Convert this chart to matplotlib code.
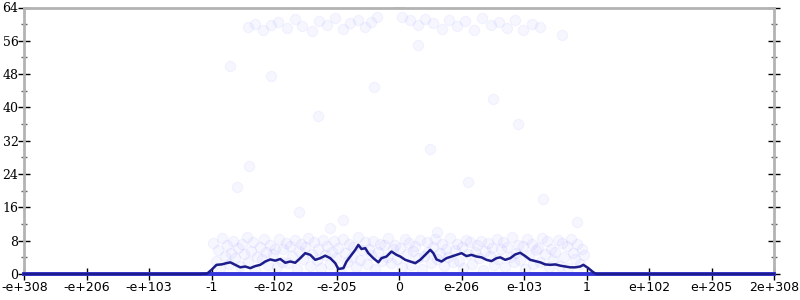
import numpy as np
import matplotlib
matplotlib.use("Agg")
import matplotlib.pyplot as plt
from matplotlib.ticker import MultipleLocator

# x positions are in tick-slot units: -6 (-e+308) ... 0 ... 6 (2e+308)
tick_pos = [-6, -5, -4, -3, -2, -1, 0, 1, 2, 3, 4, 5, 6]
tick_labels = ["-e+308", "-e+206", "-e+103", "-1", "-e-102", "-e-205", "0",
               "e-206", "e-103", "1", "e+102", "e+205", "2e+308"]

# moving-average line
line_x = [-6.0, -3.18, -3.07, -3.00, -2.92, -2.84, -2.76, -2.70, -2.62, -2.54,
          -2.46, -2.38, -2.30, -2.22, -2.14, -2.06, -1.98, -1.90, -1.82, -1.74,
          -1.66, -1.58, -1.50, -1.42, -1.34, -1.26, -1.18, -1.10, -1.02, -0.97,
          -0.89, -0.84, -0.76, -0.70, -0.65, -0.60, -0.54, -0.49, -0.41, -0.33,
          -0.28, -0.20, -0.12, -0.04, 0.02, 0.10, 0.18, 0.26, 0.34, 0.42,
          0.50, 0.55, 0.60, 0.68, 0.76, 0.84, 0.92, 1.00, 1.08, 1.16,
          1.24, 1.32, 1.40, 1.48, 1.56, 1.62, 1.70, 1.78, 1.86, 1.94,
          2.02, 2.10, 2.18, 2.26, 2.34, 2.42, 2.50, 2.58, 2.66, 2.74,
          2.82, 2.90, 2.95, 3.03, 3.11, 3.16, 6.0]
line_y = [0.0, 0.0, 0.1, 1.0, 2.2, 2.3, 2.6, 2.8, 2.2, 1.6,
          1.8, 1.4, 1.9, 2.2, 3.0, 3.5, 3.2, 3.6, 2.7, 3.0,
          2.7, 3.8, 5.0, 4.6, 3.4, 3.8, 4.4, 3.8, 2.6, 1.2,
          1.4, 3.0, 4.6, 5.8, 7.0, 6.0, 6.2, 5.0, 3.8, 2.8,
          3.8, 4.2, 5.4, 4.6, 4.2, 3.4, 3.0, 2.6, 3.4, 4.6,
          5.8, 5.0, 3.5, 3.0, 3.8, 4.2, 4.6, 5.0, 4.3, 4.6,
          4.2, 4.0, 3.4, 3.1, 3.8, 4.0, 3.4, 3.8, 4.7, 5.1,
          4.3, 3.4, 3.1, 2.8, 2.3, 2.2, 2.3, 2.0, 1.8, 1.6,
          1.6, 1.8, 2.2, 1.4, 0.4, 0.0, 0.0]

# samples sitting on zero across the whole range
zero_x = [-6.0, -5.5, -5.0, -4.5, -4.0, -3.5, -3.0, -2.5, -2.0, -1.5, -1.0,
          -0.5, 0.0, 0.5, 1.0, 1.5, 2.0, 2.5, 3.0, 3.5, 4.0, 4.5, 5.0, 5.5, 6.0]

# low band of samples inside [-1, 1]
band_x = [-2.97, -2.93, -2.90, -2.86, -2.83, -2.79, -2.76, -2.72, -2.69, -2.65,
          -2.62, -2.58, -2.55, -2.51, -2.48, -2.44, -2.41, -2.37, -2.34, -2.30,
          -2.27, -2.23, -2.20, -2.16, -2.13, -2.09, -2.06, -2.02, -1.99, -1.95,
          -1.92, -1.88, -1.85, -1.81, -1.78, -1.74, -1.71, -1.67, -1.64, -1.60,
          -1.57, -1.53, -1.50, -1.46, -1.43, -1.39, -1.36, -1.32, -1.29, -1.25,
          -1.22, -1.18, -1.15, -1.11, -1.08, -1.04, -1.01, -0.97, -0.94, -0.90,
          -0.87, -0.83, -0.80, -0.76, -0.73, -0.69, -0.66, -0.62, -0.59, -0.55,
          -0.52, -0.48, -0.45, -0.41, -0.38, -0.34, -0.31, -0.27, -0.24, -0.20,
          -0.17, -0.13, -0.10, -0.06, -0.03, 0.02, 0.05, 0.09, 0.12, 0.16,
          0.19, 0.23, 0.26, 0.30, 0.33, 0.37, 0.40, 0.44, 0.47, 0.51,
          0.54, 0.58, 0.61, 0.65, 0.68, 0.72, 0.75, 0.79, 0.82, 0.86,
          0.89, 0.93, 0.96, 1.00, 1.03, 1.07, 1.10, 1.14, 1.17, 1.21,
          1.24, 1.28, 1.31, 1.35, 1.38, 1.42, 1.45, 1.49, 1.52, 1.56,
          1.59, 1.63, 1.66, 1.70, 1.73, 1.77, 1.80, 1.84, 1.87, 1.91,
          1.94, 1.98, 2.01, 2.05, 2.08, 2.12, 2.15, 2.19, 2.22, 2.26,
          2.29, 2.33, 2.36, 2.40, 2.43, 2.47, 2.50, 2.54, 2.57, 2.61,
          2.64, 2.68, 2.71, 2.75, 2.78, 2.82, 2.85, 2.89, 2.92, 2.96]
band_y = [7.5, 3.2, 5.8, 1.4, 8.6, 4.4, 6.9, 2.5, 5.1, 8.0,
          3.8, 6.3, 1.9, 7.2, 4.9, 8.8, 2.9, 5.6, 7.8, 0.9,
          4.1, 6.6, 3.5, 8.3, 5.3, 2.2, 7.0, 4.7, 6.1, 1.6,
          8.5, 3.0, 5.9, 7.4, 2.7, 6.8, 4.3, 8.1, 1.2, 5.5,
          7.1, 3.6, 6.4, 8.7, 2.0, 4.8, 7.7, 3.3, 6.0, 1.5,
          8.2, 4.5, 6.7, 2.4, 5.2, 7.9, 3.9, 6.2, 0.8, 8.4,
          5.0, 2.8, 7.3, 4.0, 6.5, 1.8, 8.9, 3.4, 5.7, 7.6,
          2.3, 6.1, 4.6, 8.0, 1.1, 5.4, 7.2, 3.1, 6.9, 4.2,
          8.6, 2.6, 5.9, 7.0, 3.7, 6.3, 1.7, 8.3, 4.9, 7.5,
          2.1, 5.6, 6.8, 3.9, 8.1, 1.3, 4.4, 7.8, 5.2, 2.7,
          6.6, 8.5, 3.5, 5.0, 7.3, 1.9, 6.0, 4.1, 8.7, 2.9,
          5.8, 7.1, 3.2, 6.4, 1.4, 8.2, 4.7, 7.6, 2.4, 5.3,
          6.9, 3.8, 8.0, 1.0, 5.5, 7.4, 4.3, 6.2, 2.2, 8.4,
          3.6, 5.9, 7.7, 1.6, 6.5, 4.0, 8.8, 2.8, 5.1, 7.0,
          3.3, 6.7, 1.2, 8.3, 4.6, 7.2, 2.5, 5.7, 6.3, 3.0,
          8.6, 4.8, 7.9, 1.8, 6.1, 3.4, 5.4, 8.1, 2.0, 7.5,
          4.2, 6.8, 1.5, 8.5, 5.0, 3.7, 7.3, 2.3, 6.0, 4.5]

# sparse high samples
high_x = [-2.42, -2.30, -2.18, -2.05, -1.93, -1.80, -1.66, -1.55, -1.40, -1.28,
          -1.15, -1.02, -0.90, -0.78, -0.66, -0.55, -0.45, -0.35, 0.05, 0.18,
          0.30, 0.42, 0.55, 0.68, 0.80, 0.93, 1.06, 1.20, 1.33, 1.47,
          1.60, 1.72, 1.85, 1.98, 2.12, 2.25,
          -2.70, -2.05, -1.30, -2.40, -2.60, -1.60, -0.90, -1.10, 0.60, 1.50,
          1.90, 0.50, 2.30, 1.10, 0.30, 2.60, -0.40, 2.85]
high_y = [59.3, 60.1, 58.7, 59.8, 60.5, 59.0, 61.2, 59.6, 58.4, 60.8,
          59.9, 61.5, 58.9, 60.3, 61.0, 59.4, 60.6, 61.6, 61.8, 60.9,
          59.7, 61.3, 60.2, 58.8, 61.1, 59.5, 60.7, 58.5, 61.4, 59.8,
          60.4, 59.1, 61.0, 58.6, 60.1, 59.3,
          50.0, 47.5, 38.0, 26.0, 21.0, 15.0, 13.0, 11.0, 10.0, 42.0,
          36.0, 30.0, 18.0, 22.0, 55.0, 57.5, 45.0, 12.5]

grey = "#b3b3b3"
fig = plt.figure(figsize=(8, 3), dpi=100)
ax = fig.add_axes([24 / 800, 26 / 300, 750 / 800, 266.5 / 300])

pt_face = (0.25, 0.25, 1.0, 0.045)
pt_edge = (0.25, 0.25, 1.0, 0.05)
ax.scatter(band_x, band_y, s=55, facecolor=pt_face, edgecolor=pt_edge, lw=0.8, zorder=2)
ax.scatter(high_x, high_y, s=55, facecolor=pt_face, edgecolor=pt_edge, lw=0.8, zorder=2)
ax.plot(zero_x, [0] * len(zero_x), color="#3535dc", lw=2.8, zorder=3, clip_on=False)
ax.plot(line_x, line_y, color="#1c1c8a", lw=1.8, zorder=4, clip_on=False)

ax.set_xlim(-6, 6)
ax.set_ylim(0, 64)
ax.set_xticks(tick_pos)
# first label is drawn separately so it stays inside the figure
ax.set_xticklabels([""] + tick_labels[1:], fontsize=9, family="DejaVu Sans")
ax.annotate(tick_labels[0], xy=(tick_pos[0], 0), xycoords=("data", "axes fraction"),
            xytext=(-16.5, -5), textcoords="offset points", ha="left", va="top",
            fontsize=9, family="DejaVu Sans", annotation_clip=False)
ax.yaxis.set_major_locator(MultipleLocator(8))
ax.yaxis.set_minor_locator(MultipleLocator(4))
for lab in ax.get_yticklabels():
    lab.set_family("DejaVu Serif")
    lab.set_fontsize(9)

for side in ["left", "right", "top"]:
    ax.spines[side].set_color(grey)
    ax.spines[side].set_linewidth(2)
ax.spines["bottom"].set_visible(False)

ax.tick_params(axis="x", direction="inout", length=8, width=1, color="black", pad=1)
ax.tick_params(axis="y", which="major", direction="inout", length=8, width=1,
               color="black", left=True, right=True, pad=0)
ax.tick_params(axis="y", which="minor", direction="inout", length=4, width=1,
               color="#666666", left=True, right=True)

# center axis at zero
cax = fig.add_axes(ax.get_position(), frameon=False, sharey=ax)
cax.set_xlim(-6, 6)
cax.patch.set_visible(False)
cax.spines["left"].set_visible(True)
cax.spines["left"].set_position(("data", 0))
cax.spines["left"].set_color(grey)
cax.spines["left"].set_linewidth(2)
cax.set_xticks([])
cax.tick_params(axis="y", which="major", direction="inout", length=8, width=1,
                color="black", labelleft=False)
cax.tick_params(axis="y", which="minor", direction="inout", length=4, width=1,
                color="#666666")
cax.set_zorder(ax.get_zorder() - 1)

fig.savefig("out.png", dpi=100)
